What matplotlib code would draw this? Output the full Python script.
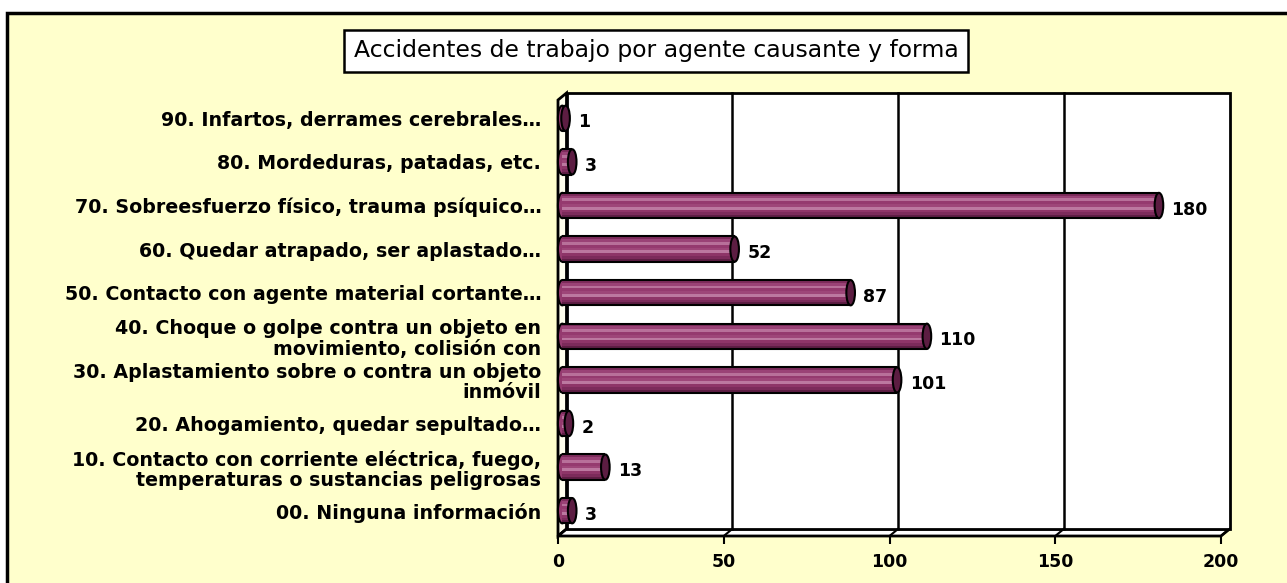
import numpy as np
import matplotlib
matplotlib.use('Agg')
import matplotlib.pyplot as plt
import matplotlib.transforms as mtransforms
from matplotlib.patches import Rectangle, Polygon, Ellipse

## DATA
categories = [
    '00. Ninguna información',
    '10. Contacto con corriente eléctrica, fuego,\ntemperaturas o sustancias peligrosas',
    '20. Ahogamiento, quedar sepultado…',
    '30. Aplastamiento sobre o contra un objeto\ninmóvil',
    '40. Choque o golpe contra un objeto en\nmovimiento, colisión con',
    '50. Contacto con agente material cortante…',
    '60. Quedar atrapado, ser aplastado…',
    '70. Sobreesfuerzo físico, trauma psíquico…',
    '80. Mordeduras, patadas, etc.',
    '90. Infartos, derrames cerebrales…',
]
values = [3, 13, 2, 101, 110, 87, 52, 180, 3, 1]
xticks = [0, 50, 100, 150, 200]
title = 'Accidentes de trabajo por agente causante y forma'

## STYLE
W, H, DPI = 1287, 583, 100
BG = '#FFFFCC'
FONT = 'DejaVu Sans'
# cylinder shading, top to bottom
SHADES = ['#7E2C5C', '#9A4276', '#B8709A', '#953A6F', '#9E4679',
          '#BC78A0', '#8E3568', '#7C2B5B', '#5E1E44']
CAP = '#5C1D42'
BAR_H = 0.58
DX, DY = 8.5, 7.0   # depth offset of the back wall, pixels

fig = plt.figure(figsize=(W / DPI, H / DPI), dpi=DPI)
fig.patch.set_facecolor('white')

# outer frame
fig.patches.append(Rectangle((7 / W, -0.05), 1.1, (H - 13) / H + 0.05,
                             transform=fig.transFigure, facecolor=BG,
                             edgecolor='black', linewidth=2.5, zorder=-5))

# front plane of the plot box
x0, x1, ytop, ybot = 558, 1221, 100, 536
ax = fig.add_axes([x0 / W, (H - ybot) / H, (x1 - x0) / W, (ybot - ytop) / H])
ax.set_zorder(2)
ax.set_facecolor('none')
ax.set_xlim(0, 200)
ax.set_ylim(-0.5, len(categories) - 0.5)
for s in ax.spines.values():
    s.set_visible(False)

dxa = DX / (x1 - x0)
dya = DY / (ybot - ytop)
dxd = dxa * 200

# walls
ax.add_patch(Polygon([(0, 0), (0, 1), (dxa, 1 + dya), (dxa, dya)], closed=True,
                     transform=ax.transAxes, facecolor='#FFFFEE',
                     edgecolor='black', lw=2, zorder=1, clip_on=False))
ax.add_patch(Polygon([(0, 0), (dxa, dya), (1 + dxa, dya), (1, 0)], closed=True,
                     transform=ax.transAxes, facecolor='white',
                     edgecolor='black', lw=2, zorder=1, clip_on=False))
ax.add_patch(Rectangle((dxa, dya), 1, 1, transform=ax.transAxes,
                       facecolor='white', edgecolor='black', lw=2,
                       zorder=1, clip_on=False))

# gridlines on the back wall and the floor connectors
xt = ax.get_xaxis_transform()
for t in xticks[1:-1]:
    ax.plot([t + dxd, t + dxd], [dya, 1 + dya], color='black', lw=1.8,
            transform=xt, zorder=2, clip_on=False)
for t in xticks:
    ax.plot([t, t + dxd], [0, dya], color='black', lw=1.5,
            transform=xt, zorder=2, clip_on=False)

# cylinders sit halfway into the box
half = mtransforms.ScaledTranslation(DX / 2 / DPI, DY / 2 / DPI,
                                     fig.dpi_scale_trans)
mid = ax.transData + half
ypos = np.arange(len(categories))
n = len(SHADES)
strip = BAR_H / n
cap_w = 2.6
for y, v in zip(ypos, values):
    ax.add_patch(Ellipse((0, y), cap_w, BAR_H, facecolor=SHADES[3],
                         edgecolor='black', lw=1.5, transform=mid, zorder=3,
                         clip_on=False))
    for i, c in enumerate(SHADES):
        ax.barh(y + BAR_H / 2 - (i + 0.5) * strip, v, height=strip * 1.05,
                color=c, lw=0, transform=mid, zorder=4)
    ax.hlines([y - BAR_H / 2, y + BAR_H / 2], 0, v, color='black', lw=1.5,
              transform=mid, zorder=5)
    ax.add_patch(Ellipse((v, y), cap_w, BAR_H, facecolor=CAP,
                         edgecolor='black', lw=1.5, transform=mid, zorder=6))
    ax.annotate(str(v), (v, y), xytext=(9, -3), textcoords='offset points',
                xycoords=mid, ha='left', va='center', fontsize=12.5,
                fontweight='bold', family=FONT, zorder=7)

# axes labels
ax.set_yticks(ypos)
ax.set_yticklabels(categories, fontsize=13.7, fontweight='bold', family=FONT,
                   linespacing=1.1)
ax.tick_params(axis='y', length=0, pad=12)
up = mtransforms.ScaledTranslation(0, DY / 2 / DPI, fig.dpi_scale_trans)
for lab in ax.get_yticklabels():
    lab.set_transform(lab.get_transform() + up)
ax.set_xticks(xticks)
ax.set_xticklabels([str(t) for t in xticks], fontsize=12.5, fontweight='bold',
                   family=FONT)
ax.tick_params(axis='x', length=6, width=1.5, pad=6, direction='out')

# title box
fig.text(656 / W, 1 - 51 / H, title, ha='center', va='center', fontsize=16.9,
         family=FONT,
         bbox=dict(boxstyle='square,pad=0.42', facecolor='white',
                   edgecolor='black', linewidth=1.8))

fig.savefig('out.png', dpi=DPI, facecolor=fig.get_facecolor())
